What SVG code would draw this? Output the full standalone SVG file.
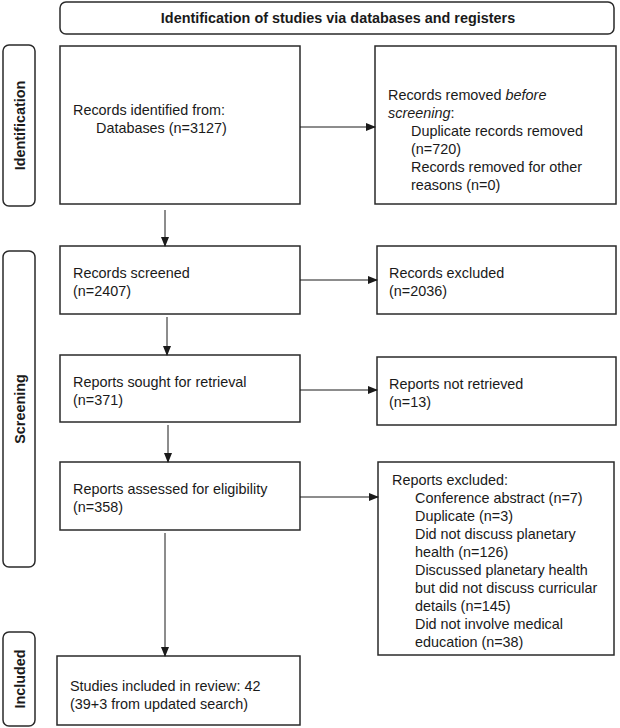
<svg xmlns="http://www.w3.org/2000/svg" width="620" height="728" viewBox="0 0 620 728">
<defs>
<marker id="ah" markerWidth="10" markerHeight="8" refX="9" refY="4" orient="auto" markerUnits="userSpaceOnUse">
<path d="M0,0 L10,4 L0,8 z" fill="#1a1a1a"/>
</marker>
<style>
.box{fill:#fff;stroke:#2a2a2a;stroke-width:1.5}
.side{fill:#fff;stroke:#2a2a2a;stroke-width:1.5}
.t{font-family:"Liberation Sans",Arial,sans-serif;font-size:14.4px;fill:#1a1a1a}
.b{font-family:"Liberation Sans",Arial,sans-serif;font-size:14.4px;font-weight:bold;fill:#1a1a1a}
.c{stroke:#1a1a1a;stroke-width:1;fill:none}
</style>
</defs>
<rect width="620" height="728" fill="#fff"/>
<g id="title"><rect class="box" x="60" y="2" width="554" height="32" rx="6"/><text class="b" x="338" y="23" text-anchor="middle">Identification of studies via databases and registers</text></g>
<g id="side-identification"><rect class="side" x="3" y="45" width="32" height="161" rx="6"/><text class="b" transform="translate(24.5,125.5) rotate(-90)" text-anchor="middle">Identification</text></g>
<g id="side-screening"><rect class="side" x="3" y="251" width="32" height="316" rx="6"/><text class="b" transform="translate(24.5,409) rotate(-90)" text-anchor="middle">Screening</text></g>
<g id="side-included"><rect class="side" x="3" y="632" width="32" height="94" rx="6"/><text class="b" transform="translate(24.5,679) rotate(-90)" text-anchor="middle">Included</text></g>
<g id="n1"><rect class="box" x="60" y="46" width="240" height="158"/><text class="t" x="73" y="115">Records identified from:</text><text class="t" x="96" y="133">Databases (n=3127)</text></g>
<g id="n2"><rect class="box" x="375" y="46" width="241" height="158"/><text class="t" x="388" y="100">Records removed <tspan font-style="italic">before</tspan></text><text class="t" x="388" y="118"><tspan font-style="italic">screening</tspan>:</text><text class="t" x="411" y="136">Duplicate records removed</text><text class="t" x="411" y="154">(n=720)</text><text class="t" x="411" y="172">Records removed for other</text><text class="t" x="411" y="190">reasons (n=0)</text></g>
<g id="n3"><rect class="box" x="60" y="246" width="240" height="68"/><text class="t" x="73" y="278">Records screened</text><text class="t" x="73" y="296">(n=2407)</text></g>
<g id="n4"><rect class="box" x="377" y="246" width="239" height="68"/><text class="t" x="389" y="278">Records excluded</text><text class="t" x="389" y="296">(n=2036)</text></g>
<g id="n5"><rect class="box" x="60" y="355" width="240" height="67"/><text class="t" x="73" y="387">Reports sought for retrieval</text><text class="t" x="73" y="405">(n=371)</text></g>
<g id="n6"><rect class="box" x="377" y="357" width="239" height="68"/><text class="t" x="389" y="389">Reports not retrieved</text><text class="t" x="389" y="407">(n=13)</text></g>
<g id="n7"><rect class="box" x="60" y="462" width="240" height="68"/><text class="t" x="73" y="494">Reports assessed for eligibility</text><text class="t" x="73" y="512">(n=358)</text></g>
<g id="n8"><rect class="box" x="378" y="462" width="236" height="193"/><text class="t" x="392" y="485">Reports excluded:</text><text class="t" x="415" y="503">Conference abstract (n=7)</text><text class="t" x="415" y="521">Duplicate (n=3)</text><text class="t" x="415" y="539">Did not discuss planetary</text><text class="t" x="415" y="557">health (n=126)</text><text class="t" x="415" y="575">Discussed planetary health</text><text class="t" x="415" y="593">but did not discuss curricular</text><text class="t" x="415" y="611">details (n=145)</text><text class="t" x="415" y="629">Did not involve medical</text><text class="t" x="415" y="647">education (n=38)</text></g>
<g id="n9"><rect class="box" x="57" y="656" width="243" height="69"/><text class="t" x="70" y="691">Studies included in review: 42</text><text class="t" x="70" y="709">(39+3 from updated search)</text></g>
<g id="connectors">
<line class="c" x1="300" y1="127" x2="375" y2="127" marker-end="url(#ah)"/>
<line class="c" x1="165" y1="210" x2="165" y2="246" marker-end="url(#ah)"/>
<line class="c" x1="300" y1="280" x2="377" y2="280" marker-end="url(#ah)"/>
<line class="c" x1="167" y1="317" x2="167" y2="355" marker-end="url(#ah)"/>
<line class="c" x1="300" y1="390" x2="377" y2="390" marker-end="url(#ah)"/>
<line class="c" x1="168" y1="425" x2="168" y2="462" marker-end="url(#ah)"/>
<line class="c" x1="300" y1="497" x2="378" y2="497" marker-end="url(#ah)"/>
<line class="c" x1="165" y1="533" x2="165" y2="656" marker-end="url(#ah)"/>
</g>
</svg>
